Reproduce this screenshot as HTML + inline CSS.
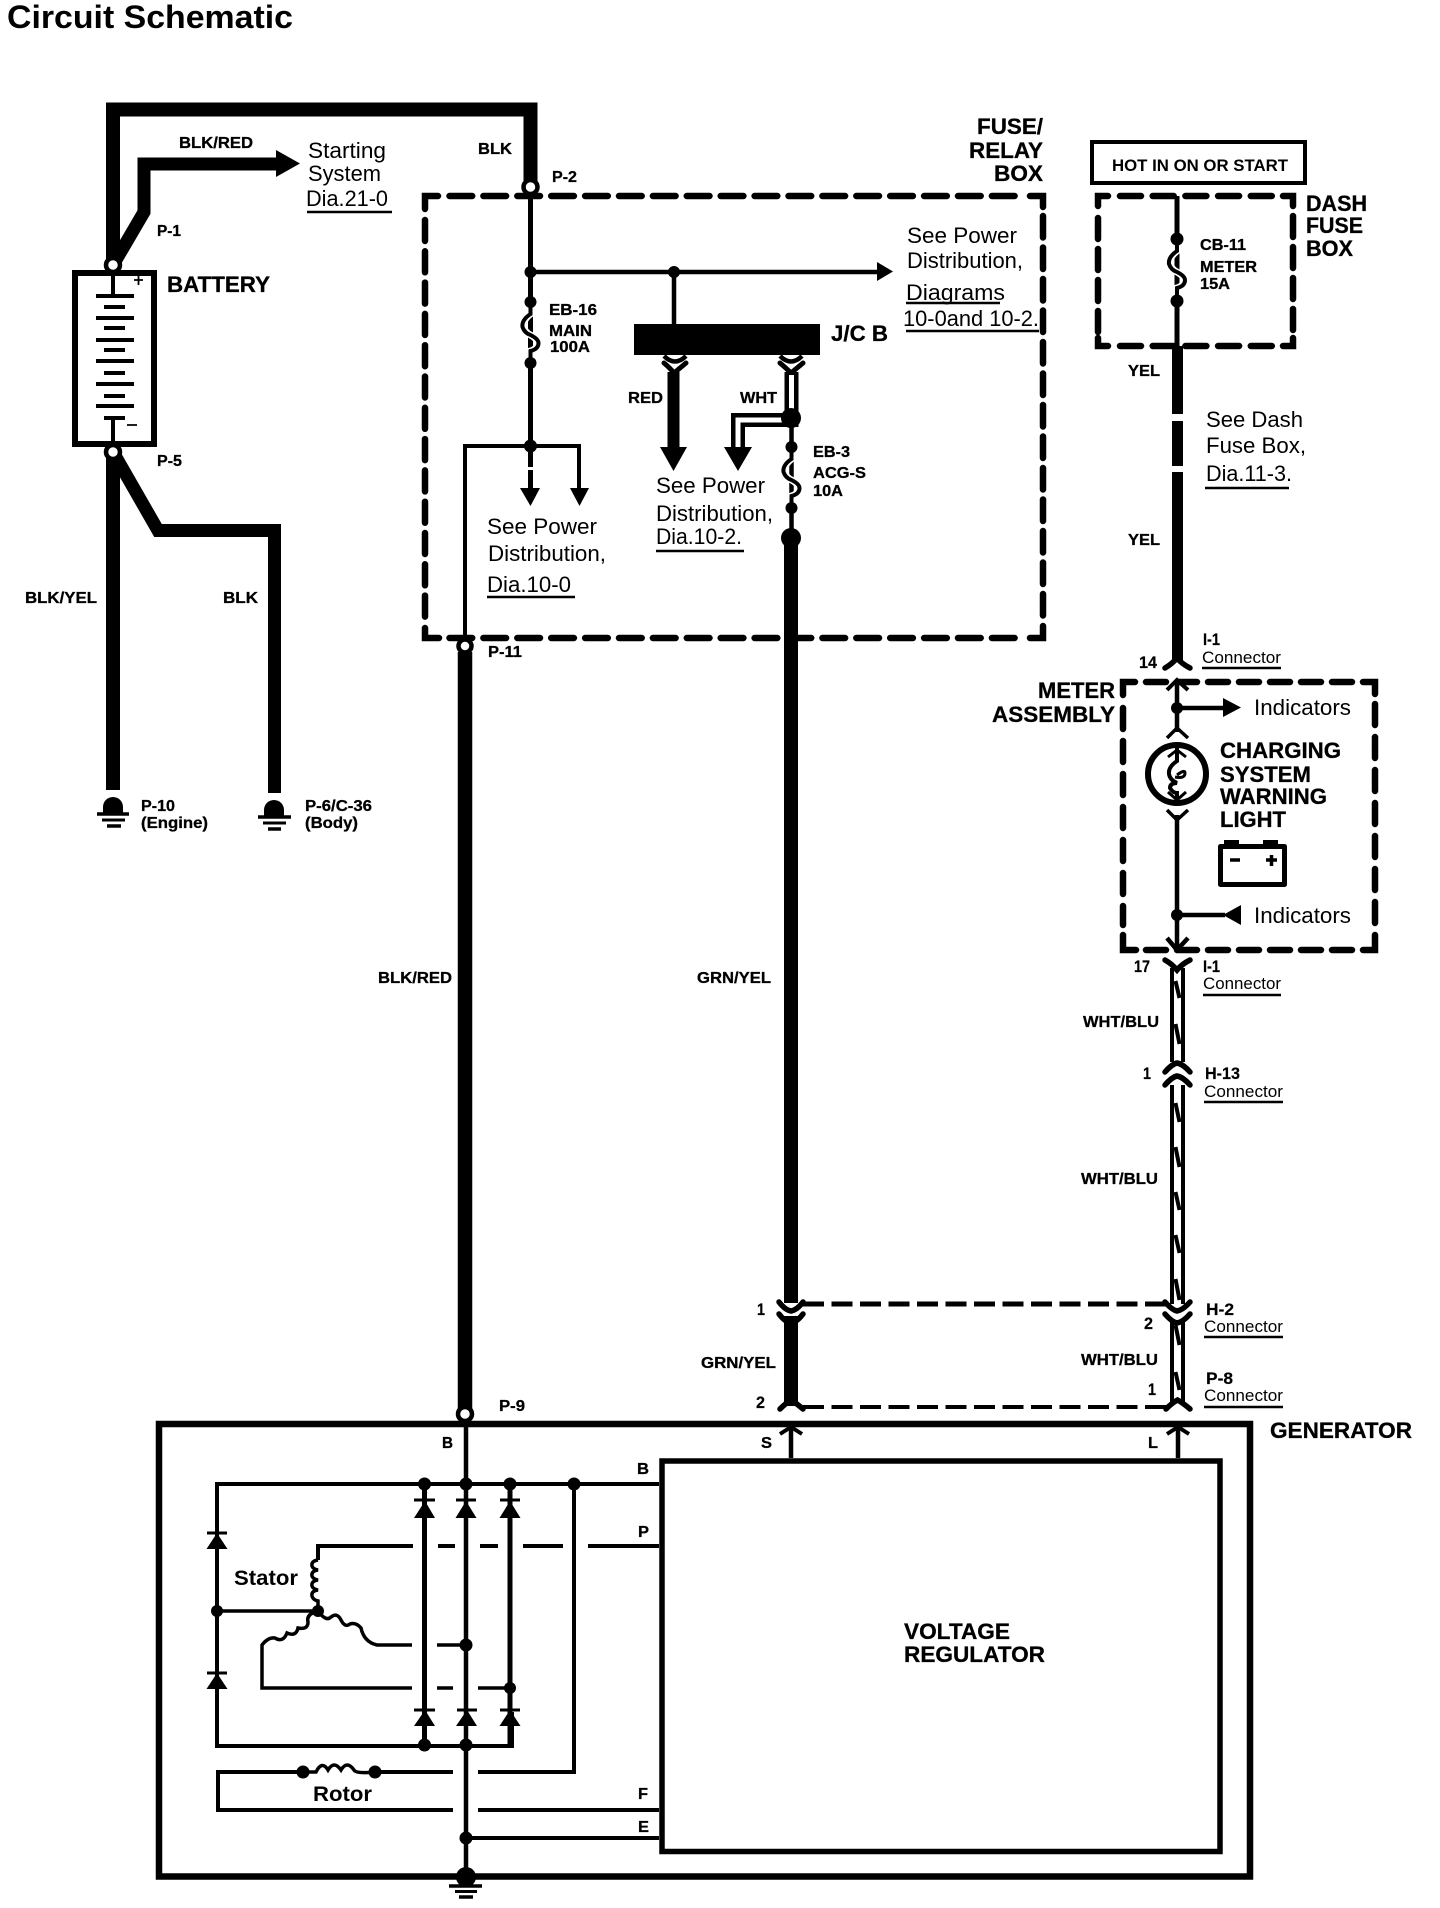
<!DOCTYPE html>
<html lang="en"><head><meta charset="utf-8"><title>Circuit Schematic</title>
<style>
html,body{margin:0;padding:0;background:#fff}
svg{display:block}
text{font-family:"Liberation Sans",sans-serif;fill:#000;stroke:none}
.s{font-weight:bold;font-size:16px;stroke:#000;stroke-width:.3px}
.m{font-weight:bold;font-size:17px;stroke:#000;stroke-width:.2px}
.b{font-weight:bold;font-size:22px;stroke:#000;stroke-width:.3px}
.r{font-size:22px}
.c{font-size:17px}
.u{stroke-width:2.5}
</style></head><body>
<svg xmlns="http://www.w3.org/2000/svg" width="1440" height="1908" viewBox="0 0 1440 1908">
<rect width="1440" height="1908" fill="#fff"/>
<g fill="none" stroke="#000" stroke-linejoin="miter">
<!-- thick battery wires -->
<path d="M113,265 V109.5 H530.5 V187" stroke-width="14"/>
<path d="M113,265 L144,212 V164 H280" stroke-width="13"/>
<path d="M113,452 V790" stroke-width="14"/>
<path d="M113,452 L158,530.5 H274.5 V793" stroke-width="13"/>
<!-- battery -->
<rect x="75" y="273" width="79" height="171" stroke-width="6"/>
<path d="M113,270 V296 M113,418 V447" stroke-width="4"/>
<path d="M96,296 H134 M96,318 H134 M96,340 H134 M96,361 H134 M96,384 H134 M96,406 H134" stroke-width="4"/>
<path d="M104,307 H125 M104,328 H125 M104,350 H125 M104,373 H125 M104,396 H125 M104,418 H125" stroke-width="4"/>
<path d="M134,280 H143 M138.500,276 V285 M127,425 H137" stroke-width="1.8"/>
<!-- dashed fuse box -->
<g stroke-width="6.500" stroke-linecap="round">
<path d="M449.500,196 H1025" stroke-dasharray="22.700 11.200"/>
<path d="M449.500,638 H1025" stroke-dasharray="22.700 11.200"/>
<path d="M425,220 V622" stroke-dasharray="21 10.300"/>
<path d="M1043,216 V620" stroke-dasharray="21.500 10"/>
<path d="M425,209 V196 H438 M1030,196 H1043 V207 M425,628 V638 H439 M1030,638 H1043 V626"/>
<!-- dash fuse box -->
<path d="M1120,196 H1275" stroke-dasharray="21 11.700"/>
<path d="M1120,346 H1275" stroke-dasharray="21 11.700"/>
<path d="M1098,218 V335" stroke-dasharray="21 10"/>
<path d="M1293,216 V335" stroke-dasharray="21 10"/>
<path d="M1098,206 V196 H1108 M1283,196 H1293 V206 M1098,338 V346 H1108 M1283,346 H1293 V338"/>
<!-- meter box -->
<path d="M1146,682 H1352" stroke-dasharray="20 11"/>
<path d="M1146,950 H1352" stroke-dasharray="20 11"/>
<path d="M1123,708 V925" stroke-dasharray="21 12"/>
<path d="M1375,704 V925" stroke-dasharray="21 12"/>
<path d="M1123,695 V682 H1135 M1363,682 H1375 V694 M1123,935 V950 H1136 M1363,950 H1375 V935"/>
</g>
<!-- fuse box internals -->
<path d="M530.500,187 V467 M530.500,470 V490" stroke-width="5"/>
<path d="M530.500,272 H880 M674,272 V325" stroke-width="4.500"/>
<path d="M465,646 V446 H579 V490" stroke-width="4"/>
<path d="M530.500,302 v12 q-8,6 -7,13 q2,6 7,8 q7,4 7,8 q0,6 -7,8 v12" stroke="#fff" stroke-width="7"/>
<path d="M530.500,302 v12 q-9,6 -8,13 q2,6 8,8 q8,4 8,8 q0,6 -8,8 v12" stroke-width="4"/>
<path d="M465,652 V1414" stroke-width="14.500"/>
<!-- J/C B connectors -->
<path d="M664,356 Q675,367 686,356 M780,356 Q791,367 802,356" stroke-width="4.500"/>
<path d="M664,363 Q670,368 674,373 Q680,368 686,363 M780,363 Q786,368 791,373 Q797,368 803,363" stroke-width="5" stroke-linecap="round"/>
<path d="M673.500,372 V450" stroke-width="12"/>
<path d="M791.500,372 V420 H738 V450" stroke-width="14"/>
<path d="M791.500,375 V420 H738 V450" stroke="#fff" stroke-width="5"/>
<path d="M791.500,420 V538" stroke-width="4.500"/>
<path d="M791.500,447 v12 q-8,6 -7,13 q2,6 7,8 q7,4 7,8 q0,6 -7,8 v12" stroke="#fff" stroke-width="7"/>
<path d="M791.500,447 v12 q-9,6 -8,13 q2,6 8,8 q8,4 8,8 q0,6 -8,8 v12" stroke-width="4"/>
<path d="M791,538 V1303 M791,1316 V1406" stroke-width="14"/>
<!-- dash fuse wire -->
<path d="M1177,196 V346" stroke-width="5"/>
<path d="M1177,239 v12 q-8,6 -7,13 q2,6 7,8 q7,4 7,8 q0,6 -7,8 v13" stroke="#fff" stroke-width="7"/>
<path d="M1177,239 v12 q-9,6 -8,13 q2,6 8,8 q8,4 8,8 q0,6 -8,8 v13" stroke-width="4"/>
<path d="M1177.500,346 V414 M1177.500,421 V466 M1177.500,472 V662" stroke-width="11"/>
<rect x="1092" y="142" width="213" height="41" stroke-width="4"/>
<!-- meter internals -->
<path d="M1177,682 V732 M1177,708 H1225" stroke-width="4.500"/>
<path d="M1177,815 V948 M1177,915 H1225" stroke-width="4.500"/>
<circle cx="1177" cy="774" r="29" stroke-width="6"/>
<path d="M1177,747 v14 q-9,6 -8,13 q1,6 8,9 q-7,0 -7,5 q3,5 7,5 v12" stroke-width="4"/>
<path d="M1177,775 q8,-6 8,-2 q0,6 -10,4" stroke-width="3"/>
<path d="M1168,757 L1177,750 L1186,757 M1168,792 L1177,800 L1186,792" stroke-width="3"/>
<path d="M1167,690 L1177,680 L1188,690" stroke-width="4"/>
<path d="M1167,738 L1177,728 L1188,738" stroke-width="3.500"/>
<path d="M1167,810 L1177,820 L1188,810" stroke-width="3.500"/>
<path d="M1167,938 L1177,950 L1188,938" stroke-width="4.500"/>
<rect x="1220.500" y="846.500" width="64" height="38" stroke-width="5" stroke-linejoin="round"/>
<path d="M1230,860 H1240 M1266,860 H1277 M1271.500,855 V866" stroke-width="3.500"/>
<!-- connectors on right harness -->
<g stroke-width="5.500" stroke-linecap="round">
<path d="M1165,668 Q1172,664 1177,658 Q1182,664 1190,668"/>
<path d="M1165,960 Q1172,964 1177,970 Q1182,964 1190,960"/>
<path d="M1165,1072 Q1172,1064 1177,1063 Q1183,1064 1190,1072"/>
<path d="M1165,1085 Q1172,1077 1177,1076 Q1183,1077 1190,1085"/>
<path d="M1165,1302 Q1172,1310 1177,1311 Q1183,1310 1190,1302"/>
<path d="M1165,1314 Q1172,1322 1177,1323 Q1183,1322 1190,1314"/>
<path d="M1166,1409 Q1172,1403 1177.500,1400 Q1183,1403 1190,1409"/>
<path d="M779,1302 Q785,1310 791,1311 Q797,1310 803,1302"/>
<path d="M779,1314 Q785,1322 791,1323 Q797,1322 803,1314"/>
<path d="M780,1409 Q786,1403 791,1400 Q796,1403 803,1409"/>
</g>
<!-- double wires -->
<path d="M1172,968 V1062 M1183,968 V1062 M1172,1085 V1304 M1183,1085 V1304 M1172,1322 V1402 M1183,1322 V1402" stroke-width="4"/>
<path d="M1175.500,981 L1179.500,998 M1175.500,1024 L1179.500,1044 M1175.500,1103 L1179.500,1122 M1175.500,1147 L1179.500,1167 M1175.500,1192 L1179.500,1210 M1175.500,1235 L1179.500,1253 M1175.500,1279 L1179.500,1300 M1175.500,1325 L1179.500,1345 M1175.500,1372 L1179.500,1390" stroke-width="4"/>
<path d="M803,1304 H1168" stroke-width="5" stroke-dasharray="21 7.500"/>
<path d="M803,1407 H1168" stroke-width="4" stroke-dasharray="21 7.500"/>
<!-- generator -->
<rect x="159" y="1424" width="1091" height="452.500" stroke-width="6.500"/>
<rect x="662" y="1461" width="558" height="390.500" stroke-width="5.500" fill="#fff"/>
<path d="M791,1458 V1429 M1178,1458 V1429" stroke-width="4.500"/>
<path d="M780,1434 L791,1427 L802,1434 M1167,1434 L1178,1427 L1189,1434" stroke-width="4"/>
<path d="M466,1420 V1878" stroke-width="4.500"/>
<path d="M424.500,1484 V1746 M510,1484 V1746" stroke-width="5"/>
<path d="M659,1484 H217 V1746 H512 V1712" stroke-width="4"/>
<path d="M574,1484 V1772 H478 M453,1772 H375 M303,1772 H218 V1810 H453 M478,1810 H659 M466,1838 H659" stroke-width="4"/>
<!-- phase lines -->
<path d="M659,1546 H588 M563,1546 H523 M498,1546 H480 M455,1546 H438 M413,1546 H318 V1560" stroke-width="4"/>
<path d="M318,1560 q-7,1 -6,6 q1,3 6,4 q-7,1 -6,6 q1,3 6,4 q-7,1 -6,6 q1,3 6,4 q-7,1 -6,6 q1,4 6,5 V1611 H217" stroke-width="3.500"/>
<path d="M318,1611 Q326,1622 331,1617 Q337,1612 341,1620 Q345,1628 350,1624 Q356,1622 361,1628 Q364,1642 377,1645 H412 M437,1645 H466" stroke-width="3.500"/>
<path d="M318,1611 Q306,1614 308,1622 Q308,1630 298,1628 Q296,1637 287,1633 Q283,1643 275,1638 Q268,1637 262,1645 V1688 H412 M437,1688 H453 M478,1688 H510" stroke-width="3.500"/>
<path d="M303,1772 H316 Q322,1760 328,1770 Q334,1760 341,1770 Q347,1760 354,1770 Q356,1774 375,1772" stroke-width="3.500"/>
<path d="M414,1500 H435 M456,1500 H476 M500,1500 H520 M414,1710 H435 M457,1710 H477 M500,1710 H520 M207,1533 H227 M207,1673 H227" stroke-width="3"/>
<path d="M449,1886 H482" stroke-width="3.500"/><path d="M455,1891.500 H477" stroke-width="3"/><path d="M459,1897 H473" stroke-width="3.500"/>
<!-- grounds -->
<path d="M97,814 H129 M258,817 H291" stroke-width="3.500"/>
<path d="M102,820 H125 M263,823 H286" stroke-width="3"/>
<path d="M107,826 H121 M268,829 H281" stroke-width="3.500"/>
</g>
<!-- filled items -->
<g fill="#000" stroke="none">
<path d="M276,150 L300,163.500 L276,177 Z"/>
<path d="M877,262 L893,271.500 L877,281 Z"/>
<path d="M520,488 H540 L530.500,506 Z"/><path d="M570,488 H589 L579.500,506 Z"/>
<rect x="634" y="324" width="186" height="31"/>
<path d="M660,447 H687 L673.500,471 Z"/><path d="M724,447 H752 L738,471 Z"/>
<path d="M1223,698 L1241,707.500 L1223,717 Z"/><path d="M1241,905 L1223,915 L1241,925 Z"/>
<rect x="1224" y="840" width="15" height="6"/><rect x="1263" y="840" width="15" height="6"/>
<path d="M103,813 V807 A10,10 0 0 1 123,807 V813 Z"/><path d="M264,816 V810 A10,10 0 0 1 284,810 V816 Z"/>
<!-- diodes -->
<path d="M414,1518 H435 L425,1501 Z M455.500,1518 H476.500 L466,1501 Z M499.500,1518 H520.500 L510,1501 Z M414,1726 H435 L425,1710 Z M456,1726 H477 L467,1710 Z M499.500,1726 H520.500 L510,1710 Z M206.500,1549 H227.500 L217,1533 Z M206.500,1689 H227.500 L217,1673 Z"/>
<circle cx="530.500" cy="272" r="6"/><circle cx="674" cy="272" r="6"/><circle cx="530.500" cy="302" r="6"/><circle cx="530.500" cy="363" r="6"/><circle cx="530.500" cy="446" r="6.500"/>
<circle cx="791" cy="418" r="10"/><circle cx="791.500" cy="447" r="6"/><circle cx="791.500" cy="508" r="6"/><circle cx="791" cy="538" r="10"/>
<circle cx="1177" cy="239" r="6.500"/><circle cx="1177" cy="301" r="6.500"/><circle cx="1177" cy="708" r="6"/><circle cx="1177" cy="915" r="6"/>
<circle cx="424.500" cy="1484" r="6.500"/><circle cx="466" cy="1484" r="6.500"/><circle cx="510" cy="1484" r="6.500"/><circle cx="574" cy="1484" r="6.500"/>
<circle cx="217" cy="1611" r="6"/><circle cx="318" cy="1611" r="6"/><circle cx="466" cy="1645" r="6.500"/><circle cx="510" cy="1688" r="6"/>
<circle cx="424.500" cy="1745" r="6.500"/><circle cx="466" cy="1745" r="6.500"/><circle cx="303" cy="1772" r="6.500"/><circle cx="375" cy="1772" r="6.500"/><circle cx="466" cy="1838" r="6.500"/><circle cx="466" cy="1877" r="10"/>
</g>
<!-- terminals -->
<g fill="#fff" stroke="#000" stroke-width="4.500">
<circle cx="113" cy="265" r="7"/><circle cx="113" cy="452" r="7"/><circle cx="530.500" cy="187" r="7"/><circle cx="465" cy="646" r="6.500"/><circle cx="465" cy="1414" r="7"/>
</g>
<!-- underlines -->
<g stroke="#000" fill="none" class="u">
<path d="M307,212 H392 M656,551 H744 M487,597 H575 M906,303 H1000 M906,331 H1039 M1205,488 H1289 M1202,668 H1281 M1203,995 H1281 M1204,1102 H1283 M1204,1337 H1283 M1204,1407 H1283"/>
</g>
<!-- text -->
<text x="7" y="28" font-size="32" font-weight="bold" textLength="286" lengthAdjust="spacingAndGlyphs">Circuit Schematic</text>
<text class="s" x="179" y="148" textLength="74" lengthAdjust="spacingAndGlyphs">BLK/RED</text>
<text class="s" x="478" y="154" textLength="34" lengthAdjust="spacingAndGlyphs">BLK</text>
<text class="s" x="157" y="236" textLength="24" lengthAdjust="spacingAndGlyphs">P-1</text>
<text class="s" x="157" y="466" textLength="25" lengthAdjust="spacingAndGlyphs">P-5</text>
<text class="s" x="552" y="182" textLength="25" lengthAdjust="spacingAndGlyphs">P-2</text>
<text class="r" x="308" y="158" textLength="78" lengthAdjust="spacingAndGlyphs">Starting</text>
<text class="r" x="308" y="181" textLength="73" lengthAdjust="spacingAndGlyphs">System</text>
<text class="r" x="306" y="206" textLength="82" lengthAdjust="spacingAndGlyphs">Dia.21-0</text>
<text class="b" x="167" y="292" textLength="103" lengthAdjust="spacingAndGlyphs">BATTERY</text>
<text class="s" x="549" y="315" textLength="48" lengthAdjust="spacingAndGlyphs">EB-16</text>
<text class="s" x="549" y="336" textLength="43" lengthAdjust="spacingAndGlyphs">MAIN</text>
<text class="s" x="550" y="352" textLength="40" lengthAdjust="spacingAndGlyphs">100A</text>
<text class="b" x="831" y="341" textLength="57" lengthAdjust="spacingAndGlyphs">J/C B</text>
<text class="s" x="628" y="403" textLength="35" lengthAdjust="spacingAndGlyphs">RED</text>
<text class="s" x="740" y="403" textLength="37" lengthAdjust="spacingAndGlyphs">WHT</text>
<text class="s" x="813" y="457" textLength="37" lengthAdjust="spacingAndGlyphs">EB-3</text>
<text class="s" x="813" y="478" textLength="53" lengthAdjust="spacingAndGlyphs">ACG-S</text>
<text class="s" x="813" y="496" textLength="30" lengthAdjust="spacingAndGlyphs">10A</text>
<text class="r" x="656" y="493" textLength="109" lengthAdjust="spacingAndGlyphs">See Power</text>
<text class="r" x="656" y="521" textLength="117" lengthAdjust="spacingAndGlyphs">Distribution,</text>
<text class="r" x="656" y="544" textLength="86" lengthAdjust="spacingAndGlyphs">Dia.10-2.</text>
<text class="r" x="487" y="534" textLength="110" lengthAdjust="spacingAndGlyphs">See Power</text>
<text class="r" x="488" y="561" textLength="118" lengthAdjust="spacingAndGlyphs">Distribution,</text>
<text class="r" x="487" y="592" textLength="84" lengthAdjust="spacingAndGlyphs">Dia.10-0</text>
<text class="s" x="488" y="657" textLength="34" lengthAdjust="spacingAndGlyphs">P-11</text>
<text class="r" x="907" y="243" textLength="110" lengthAdjust="spacingAndGlyphs">See Power</text>
<text class="r" x="907" y="268" textLength="116" lengthAdjust="spacingAndGlyphs">Distribution,</text>
<text class="r" x="906" y="300" textLength="99" lengthAdjust="spacingAndGlyphs">Diagrams</text>
<text class="r" x="903" y="326" textLength="136" lengthAdjust="spacingAndGlyphs">10-0and 10-2.</text>
<text class="b" x="977" y="134" textLength="66" lengthAdjust="spacingAndGlyphs">FUSE/</text>
<text class="b" x="969" y="158" textLength="74" lengthAdjust="spacingAndGlyphs">RELAY</text>
<text class="b" x="994" y="181" textLength="49" lengthAdjust="spacingAndGlyphs">BOX</text>
<text x="1112" y="171" font-size="17" font-weight="bold" stroke="#000" stroke-width=".2" textLength="176" lengthAdjust="spacingAndGlyphs">HOT IN ON OR START</text>
<text class="s" x="1200" y="250" textLength="46" lengthAdjust="spacingAndGlyphs">CB-11</text>
<text class="s" x="1200" y="272" textLength="57" lengthAdjust="spacingAndGlyphs">METER</text>
<text class="s" x="1200" y="289" textLength="30" lengthAdjust="spacingAndGlyphs">15A</text>
<text class="b" x="1306" y="211" textLength="61" lengthAdjust="spacingAndGlyphs">DASH</text>
<text class="b" x="1306" y="233" textLength="57" lengthAdjust="spacingAndGlyphs">FUSE</text>
<text class="b" x="1306" y="256" textLength="47" lengthAdjust="spacingAndGlyphs">BOX</text>
<text class="s" x="1128" y="376" textLength="32" lengthAdjust="spacingAndGlyphs">YEL</text>
<text class="s" x="1128" y="545" textLength="32" lengthAdjust="spacingAndGlyphs">YEL</text>
<text class="r" x="1206" y="427" textLength="97" lengthAdjust="spacingAndGlyphs">See Dash</text>
<text class="r" x="1206" y="453" textLength="100" lengthAdjust="spacingAndGlyphs">Fuse Box,</text>
<text class="r" x="1206" y="481" textLength="86" lengthAdjust="spacingAndGlyphs">Dia.11-3.</text>
<text class="m" x="1203" y="645" textLength="17" lengthAdjust="spacingAndGlyphs">I-1</text>
<text class="c" x="1202" y="663" textLength="79" lengthAdjust="spacingAndGlyphs">Connector</text>
<text class="m" x="1139" y="668" textLength="18" lengthAdjust="spacingAndGlyphs">14</text>
<text class="b" x="1038" y="698" textLength="77" lengthAdjust="spacingAndGlyphs">METER</text>
<text class="b" x="992" y="722" textLength="123" lengthAdjust="spacingAndGlyphs">ASSEMBLY</text>
<text class="r" x="1254" y="715" textLength="97" lengthAdjust="spacingAndGlyphs">Indicators</text>
<text class="r" x="1254" y="923" textLength="97" lengthAdjust="spacingAndGlyphs">Indicators</text>
<text class="b" x="1220" y="758" textLength="121" lengthAdjust="spacingAndGlyphs">CHARGING</text>
<text class="b" x="1220" y="782" textLength="91" lengthAdjust="spacingAndGlyphs">SYSTEM</text>
<text class="b" x="1220" y="804" textLength="107" lengthAdjust="spacingAndGlyphs">WARNING</text>
<text class="b" x="1220" y="827" textLength="66" lengthAdjust="spacingAndGlyphs">LIGHT</text>
<text class="m" x="1134" y="972" textLength="16" lengthAdjust="spacingAndGlyphs">17</text>
<text class="m" x="1203" y="972" textLength="17" lengthAdjust="spacingAndGlyphs">I-1</text>
<text class="c" x="1203" y="989" textLength="78" lengthAdjust="spacingAndGlyphs">Connector</text>
<text class="s" x="1083" y="1027" textLength="76" lengthAdjust="spacingAndGlyphs">WHT/BLU</text>
<text class="m" x="1143" y="1079" textLength="8" lengthAdjust="spacingAndGlyphs">1</text>
<text class="m" x="1205" y="1079" textLength="35" lengthAdjust="spacingAndGlyphs">H-13</text>
<text class="c" x="1204" y="1097" textLength="79" lengthAdjust="spacingAndGlyphs">Connector</text>
<text class="s" x="1081" y="1184" textLength="77" lengthAdjust="spacingAndGlyphs">WHT/BLU</text>
<text class="m" x="757" y="1315" textLength="8" lengthAdjust="spacingAndGlyphs">1</text>
<text class="m" x="1206" y="1315" textLength="28" lengthAdjust="spacingAndGlyphs">H-2</text>
<text class="c" x="1204" y="1332" textLength="79" lengthAdjust="spacingAndGlyphs">Connector</text>
<text class="m" x="1144" y="1329" textLength="9" lengthAdjust="spacingAndGlyphs">2</text>
<text class="s" x="1081" y="1365" textLength="77" lengthAdjust="spacingAndGlyphs">WHT/BLU</text>
<text class="s" x="701" y="1368" textLength="75" lengthAdjust="spacingAndGlyphs">GRN/YEL</text>
<text class="m" x="1148" y="1395" textLength="8" lengthAdjust="spacingAndGlyphs">1</text>
<text class="m" x="1206" y="1384" textLength="27" lengthAdjust="spacingAndGlyphs">P-8</text>
<text class="c" x="1204" y="1401" textLength="79" lengthAdjust="spacingAndGlyphs">Connector</text>
<text class="m" x="756" y="1408" textLength="9" lengthAdjust="spacingAndGlyphs">2</text>
<text class="s" x="378" y="983" textLength="74" lengthAdjust="spacingAndGlyphs">BLK/RED</text>
<text class="s" x="697" y="983" textLength="74" lengthAdjust="spacingAndGlyphs">GRN/YEL</text>
<text class="s" x="25" y="603" textLength="72" lengthAdjust="spacingAndGlyphs">BLK/YEL</text>
<text class="s" x="223" y="603" textLength="35" lengthAdjust="spacingAndGlyphs">BLK</text>
<text class="s" x="141" y="811" textLength="34" lengthAdjust="spacingAndGlyphs">P-10</text>
<text class="s" x="141" y="828" textLength="67" lengthAdjust="spacingAndGlyphs">(Engine)</text>
<text class="s" x="305" y="811" textLength="67" lengthAdjust="spacingAndGlyphs">P-6/C-36</text>
<text class="s" x="305" y="828" textLength="53" lengthAdjust="spacingAndGlyphs">(Body)</text>
<text class="s" x="499" y="1411" textLength="26" lengthAdjust="spacingAndGlyphs">P-9</text>
<text class="b" x="1270" y="1438" textLength="142" lengthAdjust="spacingAndGlyphs">GENERATOR</text>
<text class="s" x="442" y="1448" textLength="11" lengthAdjust="spacingAndGlyphs">B</text>
<text class="s" x="761" y="1448" textLength="11" lengthAdjust="spacingAndGlyphs">S</text>
<text class="s" x="1148" y="1448" textLength="10" lengthAdjust="spacingAndGlyphs">L</text>
<text class="s" x="637" y="1474" textLength="12" lengthAdjust="spacingAndGlyphs">B</text>
<text class="s" x="638" y="1537" textLength="11" lengthAdjust="spacingAndGlyphs">P</text>
<text class="s" x="638" y="1799" textLength="10" lengthAdjust="spacingAndGlyphs">F</text>
<text class="s" x="638" y="1832" textLength="11" lengthAdjust="spacingAndGlyphs">E</text>
<text x="234" y="1585" font-size="21" font-weight="bold" textLength="64" lengthAdjust="spacingAndGlyphs">Stator</text>
<text x="313" y="1801" font-size="21" font-weight="bold" textLength="59" lengthAdjust="spacingAndGlyphs">Rotor</text>
<text class="b" x="904" y="1639" textLength="106" lengthAdjust="spacingAndGlyphs">VOLTAGE</text>
<text class="b" x="904" y="1662" textLength="141" lengthAdjust="spacingAndGlyphs">REGULATOR</text>
</svg>
</body></html>
